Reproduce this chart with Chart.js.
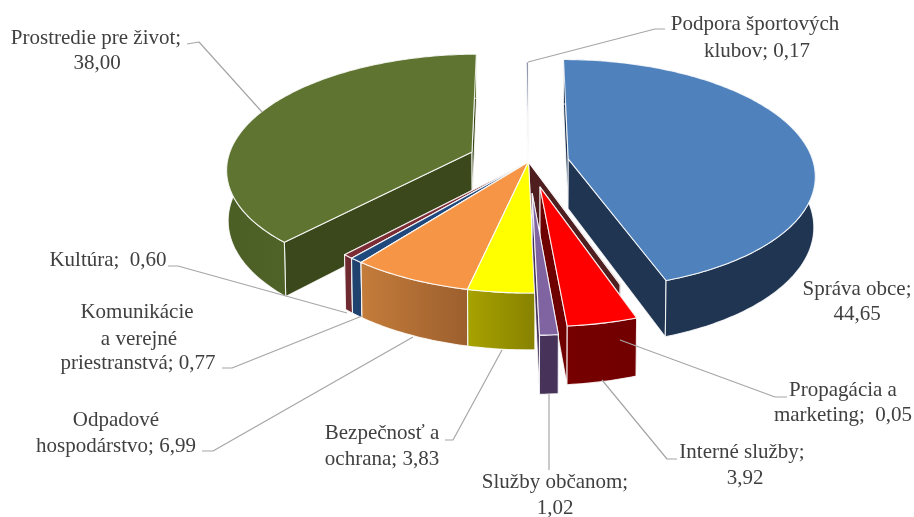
<!DOCTYPE html>
<html>
<head>
<meta charset="utf-8">
<style>
  html, body { margin: 0; padding: 0; background: #fff; }
  #wrap { width: 914px; height: 517px; }
  #pieChart { filter: blur(0.4px); }
</style>
<script src="https://cdn.jsdelivr.net/npm/chart.js@4"></script>
</head>
<body>
<div id="wrap"><canvas id="pieChart" width="914" height="517"></canvas></div>
<script>
// ===== DATA =====
const categories = ['Správa obce', 'Propagácia a marketing', 'Interné služby', 'Služby občanom', 'Bezpečnosť a ochrana',
    'Odpadové hospodárstvo', 'Komunikácie a verejné priestranstvá', 'Kultúra', 'Prostredie pre život', 'Podpora športových klubov'];
const values = [44.65, 0.05, 3.92, 1.02, 3.83, 6.99, 0.77, 0.60, 38.00, 0.17];

// ===== STYLE =====
const topColors = ['#4f81bd', '#7a2c2c', '#ff0000', '#8064a2', '#ffff00', '#f59545', '#1f497d', '#7b2c34', '#5f7430', '#8f93aa'];
const sideColors = ['#1f3552', '#4f1f1f', '#6e0000', '#47335a', '#3c4a1c', '#8a5530', '#1c3a60', '#6a282e', '#3b481b', '#d0d2dc'];
const wallFrom = ['#1f3552', '#4f1f1f', '#760000', '#47335a', '#a8a200', '#c47c3a', '#1f426e', '#6e2a30', '#4b5e25', '#d0d2dc'];
const wallTo = ['#1f3552', '#4f1f1f', '#720000', '#47335a', '#878200', '#9c5f2e', '#1f426e', '#6e2a30', '#5c702d', '#d0d2dc'];
const explode = [0.165, 0, 0.22, 0.268, 0, 0, 0, 0, 0.25, 0];

// perspective of the tilted pie, relative to the outer radius
const TILT = 0.463, PERSP = 0.134, DEPTH = 0.205, SHRINK = 0.005, LIFT = 83;

// label placement: words per line, centre x and baseline y of each line
const labelLayout = [
    { words: [2, 1], x: [857, 857], y: [295, 320] },
    { words: [2, 2], x: [843, 843], y: [396, 421], gap: '  ' },
    { words: [2, 1], x: [742, 745], y: [458, 484] },
    { words: [2, 1], x: [555, 555], y: [488, 514] },
    { words: [2, 2], x: [382, 382], y: [439, 465] },
    { words: [1, 2], x: [116, 116], y: [426, 452] },
    { words: [1, 2, 2], x: [137, 139, 138], y: [318, 345, 369] },
    { words: [2], x: [108], y: [266], gap: '  ' },
    { words: [3, 1], x: [96, 97], y: [44, 69] },
    { words: [2, 2], x: [755, 757], y: [30, 57] }
];
const leaders = [
    null,
    [[787, 397], [775, 397], [620, 340]],
    [[677, 459], [667, 459], [602, 380]],
    [[549, 393], [549, 470]],
    [[445, 440], [453, 440], [502, 350]],
    [[202, 451], [213, 451], [413, 337]],
    [[222, 368], [232, 368], [362, 316]],
    [[168, 266], [178, 266], [347, 313]],
    [[187, 44], [199, 42], [262, 112]],
    [[665, 29], [655, 29], [528, 62]]
];

function labelLines(i) {
    const text = categories[i] + ';' + (labelLayout[i].gap || ' ') + values[i].toFixed(2).replace('.', ',');
    const parts = text.split(/( +)/);
    const lines = [];
    let pos = 0;
    labelLayout[i].words.forEach(function(count) {
        lines.push(parts.slice(pos, pos + count * 2 - 1).join(''));
        pos += count * 2;
    });
    return lines;
}

function tracePath(ctx, pts) {
    ctx.beginPath();
    pts.forEach(function(p, i) {
        if (i === 0) ctx.moveTo(p[0], p[1]);
        else ctx.lineTo(p[0], p[1]);
    });
    ctx.closePath();
}

function fillFace(ctx, pts, fill) {
    tracePath(ctx, pts);
    ctx.fillStyle = fill;
    ctx.fill();
    ctx.strokeStyle = 'rgba(255,255,255,0.85)';
    ctx.lineWidth = 1.1;
    ctx.lineJoin = 'round';
    ctx.stroke();
}

// ===== 3D PIE PLUGIN: takes the angles of Chart.js arcs and projects them =====
const pie3d = {
    id: 'pie3d',
    beforeDatasetsDraw: function(chart) {
        const ctx = chart.ctx;
        const arcs = chart.getDatasetMeta(0).data;
        const slices = arcs.map(function(arc, i) {
            const a0 = arc.startAngle + Math.PI / 2;
            const a1 = arc.endAngle + Math.PI / 2;
            const mid = (a0 + a1) / 2;
            const d = explode[i];
            return { i: i, a0: a0, a1: a1, ou: d * Math.sin(mid), ov: -d * Math.cos(mid), arc: arc };
        });
        slices.sort(function(a, b) {
            return (a.ov - Math.cos((a.a0 + a.a1) / 2)) - (b.ov - Math.cos((b.a0 + b.a1) / 2));
        });

        slices.forEach(function(s) {
            const R = s.arc.outerRadius;
            const project = function(u, v, h) {
                const w = 1 - PERSP * v + SHRINK * h;
                return [s.arc.x + R * u / w, s.arc.y - LIFT + R * (TILT * v + DEPTH * h) / w];
            };
            const rim = function(a, h) {
                return project(s.ou + Math.sin(a), s.ov - Math.cos(a), h);
            };
            const apex = function(h) {
                return project(s.ou, s.ov, h);
            };
            const steps = Math.max(2, Math.ceil((s.a1 - s.a0) * 60));
            const top = [], low = [];
            for (let n = 0; n <= steps; n++) {
                const a = s.a0 + (s.a1 - s.a0) * n / steps;
                top.push(rim(a, 0));
                low.push(rim(a, 1));
            }

            // radial walls first, the top face covers whatever is hidden
            fillFace(ctx, [apex(0), rim(s.a0, 0), rim(s.a0, 1), apex(1)], sideColors[s.i]);
            fillFace(ctx, [apex(0), rim(s.a1, 0), rim(s.a1, 1), apex(1)], sideColors[s.i]);

            const xs = top.map(function(p) { return p[0]; });
            const grad = ctx.createLinearGradient(Math.min.apply(null, xs), 0, Math.max.apply(null, xs), 0);
            grad.addColorStop(0, wallFrom[s.i]);
            grad.addColorStop(1, wallTo[s.i]);
            fillFace(ctx, top.concat(low.slice().reverse()), grad);

            fillFace(ctx, [apex(0)].concat(top), topColors[s.i]);
        });
        return false;
    },
    afterDraw: function(chart) {
        const ctx = chart.ctx;
        ctx.save();
        ctx.strokeStyle = '#a6a6a6';
        ctx.lineWidth = 1.2;
        leaders.forEach(function(line) {
            if (!line) return;
            ctx.beginPath();
            line.forEach(function(p, i) {
                if (i === 0) ctx.moveTo(p[0], p[1]);
                else ctx.lineTo(p[0], p[1]);
            });
            ctx.stroke();
        });
        ctx.fillStyle = '#404040';
        ctx.font = '21px "Liberation Serif"';
        ctx.textAlign = 'center';
        ctx.textBaseline = 'alphabetic';
        categories.forEach(function(c, i) {
            labelLines(i).forEach(function(line, n) {
                ctx.fillText(line, labelLayout[i].x[n], labelLayout[i].y[n]);
            });
        });
        ctx.restore();
    }
};

new Chart(document.getElementById('pieChart'), {
    type: 'pie',
    data: {
        labels: categories,
        datasets: [{
            data: values,
            backgroundColor: topColors,
            borderWidth: 0,
            hoverOffset: 0
        }]
    },
    options: {
        responsive: false,
        animation: false,
        events: [],
        layout: { padding: { left: 143, top: 0, right: 0, bottom: 27 } },
        plugins: {
            legend: { display: false },
            tooltip: { enabled: false }
        }
    },
    plugins: [pie3d]
});
</script>
</body>
</html>
